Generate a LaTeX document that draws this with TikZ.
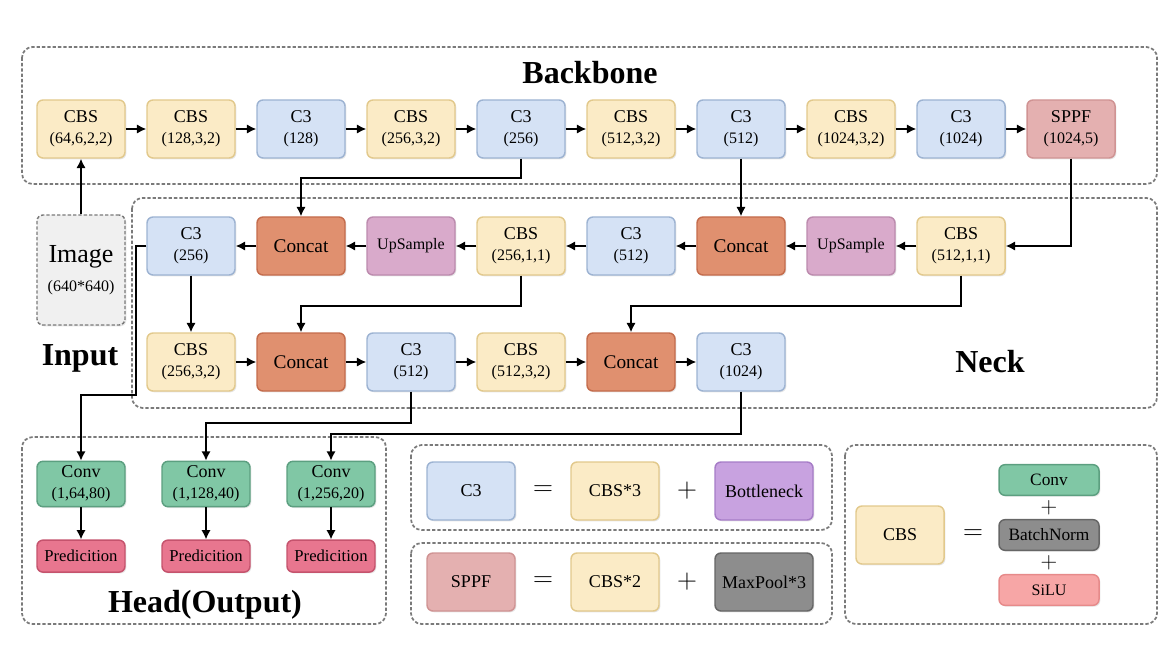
\documentclass[tikz,border=0pt]{standalone}
\usepackage{fontspec}
\setmainfont{Liberation Serif}
\usetikzlibrary{positioning,shadows,arrows.meta}

\definecolor{cbsfill}{HTML}{FBEBC6}
\definecolor{cbsdraw}{HTML}{E2C98C}
\definecolor{cthreefill}{HTML}{D5E2F5}
\definecolor{cthreedraw}{HTML}{9DB3D2}
\definecolor{sppffill}{HTML}{E4B0B0}
\definecolor{sppfdraw}{HTML}{D09393}
\definecolor{concatfill}{HTML}{E0906F}
\definecolor{concatdraw}{HTML}{C46C4C}
\definecolor{upfill}{HTML}{D9AACB}
\definecolor{updraw}{HTML}{BC8BAE}
\definecolor{convfill}{HTML}{80C7A5}
\definecolor{convdraw}{HTML}{5C9F80}
\definecolor{predfill}{HTML}{E8768F}
\definecolor{preddraw}{HTML}{C5536D}
\definecolor{bottlefill}{HTML}{C8A2E0}
\definecolor{bottledraw}{HTML}{A67CC7}
\definecolor{poolfill}{HTML}{8D8D8D}
\definecolor{pooldraw}{HTML}{666666}
\definecolor{silufill}{HTML}{F7A6A6}
\definecolor{siludraw}{HTML}{E68A8A}
\definecolor{framegray}{HTML}{7A7A7A}

\newcommand{\prm}[1]{{\fontsize{12}{13}\selectfont #1}}

\begin{document}
\begin{tikzpicture}[
    x=0.75pt, y=0.75pt,
    node distance=15.4pt,
    block/.style={rectangle, rounded corners=4.5pt, line width=1.1pt,
        minimum width=66pt, minimum height=43.5pt, inner sep=1pt,
        align=center, text=black, font=\fontsize{13.5}{16}\selectfont,
        drop shadow={shadow xshift=1pt, shadow yshift=-1pt, opacity=0.2}},
    cbs/.style={block, fill=cbsfill, draw=cbsdraw},
    cthree/.style={block, fill=cthreefill, draw=cthreedraw},
    sppf/.style={block, fill=sppffill, draw=sppfdraw},
    concat/.style={block, fill=concatfill, draw=concatdraw, font=\fontsize{14.5}{16}\selectfont},
    upsample/.style={block, fill=upfill, draw=updraw, font=\fontsize{12}{14}\selectfont},
    conv/.style={block, fill=convfill, draw=convdraw, minimum height=34pt},
    pred/.style={block, fill=predfill, draw=preddraw, minimum height=24pt, font=\fontsize{12.5}{14}\selectfont},
    bottle/.style={block, fill=bottlefill, draw=bottledraw, minimum width=73.5pt},
    pool/.style={block, fill=poolfill, draw=pooldraw, minimum width=73.5pt},
    part/.style={block, minimum width=75pt, minimum height=23pt, font=\fontsize{13}{15}\selectfont},
    sign/.style={font=\fontsize{22}{24}\selectfont, inner sep=0pt},
    frame/.style={draw=framegray, dash pattern=on 2.5pt off 1.5pt, line width=1.3pt, rounded corners=8pt},
    title/.style={font=\fontsize{24}{28}\selectfont\bfseries},
    arr/.style={-{Latex[length=7pt,width=7pt]}, line width=1.2pt}
]
\useasboundingbox (0,0) rectangle (1169,647);

% frames
\draw[frame] (22,600) rectangle (1157,463);
\draw[frame] (132,449) rectangle (1157,239);
\draw[frame] (22,210) rectangle (386,23);
\draw[frame] (411,202) rectangle (832,117);
\draw[frame] (411,104) rectangle (832,23);
\draw[frame] (845,202) rectangle (1157,23);

\node[title] (Backbone) at (590,574) {Backbone};
\node[title] (Input) at (80,289) {Input};
\node[title] (Neck) at (990,285) {Neck};
\node[title] (Head) at (205,42) {Head(Output)};

% input
\node[block, fill=black!6, draw=framegray, dash pattern=on 2.5pt off 1.5pt,
    minimum height=82.5pt] (img) at (81,377)
    {\fontsize{19.5}{22}\selectfont Image\\[6pt]\prm{(640*640)}};

% backbone
\node[cbs] (b1) at (81,518) {CBS\\\prm{(64,6,2,2)}};
\node[cbs, right=of b1] (b2) {CBS\\\prm{(128,3,2)}};
\node[cthree, right=of b2] (b3) {C3\\\prm{(128)}};
\node[cbs, right=of b3] (b4) {CBS\\\prm{(256,3,2)}};
\node[cthree, right=of b4] (b5) {C3\\\prm{(256)}};
\node[cbs, right=of b5] (b6) {CBS\\\prm{(512,3,2)}};
\node[cthree, right=of b6] (b7) {C3\\\prm{(512)}};
\node[cbs, right=of b7] (b8) {CBS\\\prm{(1024,3,2)}};
\node[cthree, right=of b8] (b9) {C3\\\prm{(1024)}};
\node[sppf, right=of b9] (b10) {SPPF\\\prm{(1024,5)}};

% neck, upper row
\node[cthree] (n1) at (191,401) {C3\\\prm{(256)}};
\node[concat, right=of n1] (n2) {Concat};
\node[upsample, right=of n2] (n3) {UpSample};
\node[cbs, right=of n3] (n4) {CBS\\\prm{(256,1,1)}};
\node[cthree, right=of n4] (n5) {C3\\\prm{(512)}};
\node[concat, right=of n5] (n6) {Concat};
\node[upsample, right=of n6] (n7) {UpSample};
\node[cbs, right=of n7] (n8) {CBS\\\prm{(512,1,1)}};

% neck, lower row
\node[cbs] (m1) at (191,285) {CBS\\\prm{(256,3,2)}};
\node[concat, right=of m1] (m2) {Concat};
\node[cthree, right=of m2] (m3) {C3\\\prm{(512)}};
\node[cbs, right=of m3] (m4) {CBS\\\prm{(512,3,2)}};
\node[concat, right=of m4] (m5) {Concat};
\node[cthree, right=of m5] (m6) {C3\\\prm{(1024)}};

% head
\node[conv] (h1) at (81,163) {Conv\\\prm{(1,64,80)}};
\node[conv] (h2) at (206,163) {Conv\\\prm{(1,128,40)}};
\node[conv] (h3) at (331,163) {Conv\\\prm{(1,256,20)}};
\node[pred, below=24pt of h1] (p1) {Predicition};
\node[pred, below=24pt of h2] (p2) {Predicition};
\node[pred, below=24pt of h3] (p3) {Predicition};

% legend C3 and SPPF
\node[cthree] (LegC3) at (471,156) {C3};
\node[sign] (EqC3) at (543,156) {$=$};
\node[cbs] (LegCBSa) at (615,156) {CBS*3};
\node[sign] (PlusC3) at (687,156) {$+$};
\node[bottle] (LegBottle) at (764,156) {Bottleneck};
\node[sppf] (LegSPPF) at (471,65) {SPPF};
\node[sign] (EqSPPF) at (543,65) {$=$};
\node[cbs] (LegCBSb) at (615,65) {CBS*2};
\node[sign] (PlusSPPF) at (687,65) {$+$};
\node[pool] (LegPool) at (764,65) {MaxPool*3};

% legend CBS
\node[cbs] (LegCBS) at (900,112) {CBS};
\node[sign] (EqCBS) at (973,112) {$=$};
\node[part, fill=convfill, draw=convdraw] (LegConv) at (1049,167) {Conv};
\node[sign, font=\fontsize{18}{20}\selectfont] (PlusA) at (1049,139) {$+$};
\node[part, fill=poolfill, draw=pooldraw] (LegBN) at (1049,112) {BatchNorm};
\node[sign, font=\fontsize{18}{20}\selectfont] (PlusB) at (1049,84) {$+$};
\node[part, fill=silufill, draw=siludraw, font=\fontsize{12}{14}\selectfont] (LegSiLU) at (1049,57) {SiLU};

% connectors
\draw[arr] (img.north) -- (b1.south);
\draw[arr] (b1) -- (b2);
\draw[arr] (b2) -- (b3);
\draw[arr] (b3) -- (b4);
\draw[arr] (b4) -- (b5);
\draw[arr] (b5) -- (b6);
\draw[arr] (b6) -- (b7);
\draw[arr] (b7) -- (b8);
\draw[arr] (b8) -- (b9);
\draw[arr] (b9) -- (b10);

\draw[arr] (b5.south) -- ++(0,-19) -| (n2.north);
\draw[arr] (b7.south) -- (n6.north);
\draw[arr] (b10.south) |- (n8.east);

\draw[arr] (n8) -- (n7);
\draw[arr] (n7) -- (n6);
\draw[arr] (n6) -- (n5);
\draw[arr] (n5) -- (n4);
\draw[arr] (n4) -- (n3);
\draw[arr] (n3) -- (n2);
\draw[arr] (n2) -- (n1);

\draw[arr] (n1.south) -- (m1.north);
\draw[arr] (n4.south) -- ++(0,-30) -| (m2.north);
\draw[arr] (n8.south) -- ++(0,-30) -| (m5.north);

\draw[arr] (m1) -- (m2);
\draw[arr] (m2) -- (m3);
\draw[arr] (m3) -- (m4);
\draw[arr] (m4) -- (m5);
\draw[arr] (m5) -- (m6);

\draw[arr] (n1.west) -- ++(-10,0) -- ++(0,-149) -| (h1.north);
\draw[arr] (m3.south) -- ++(0,-31) -| (h2.north);
\draw[arr] (m6.south) -- ++(0,-42) -| (h3.north);

\draw[arr] (h1) -- (p1);
\draw[arr] (h2) -- (p2);
\draw[arr] (h3) -- (p3);

\end{tikzpicture}
\end{document}
